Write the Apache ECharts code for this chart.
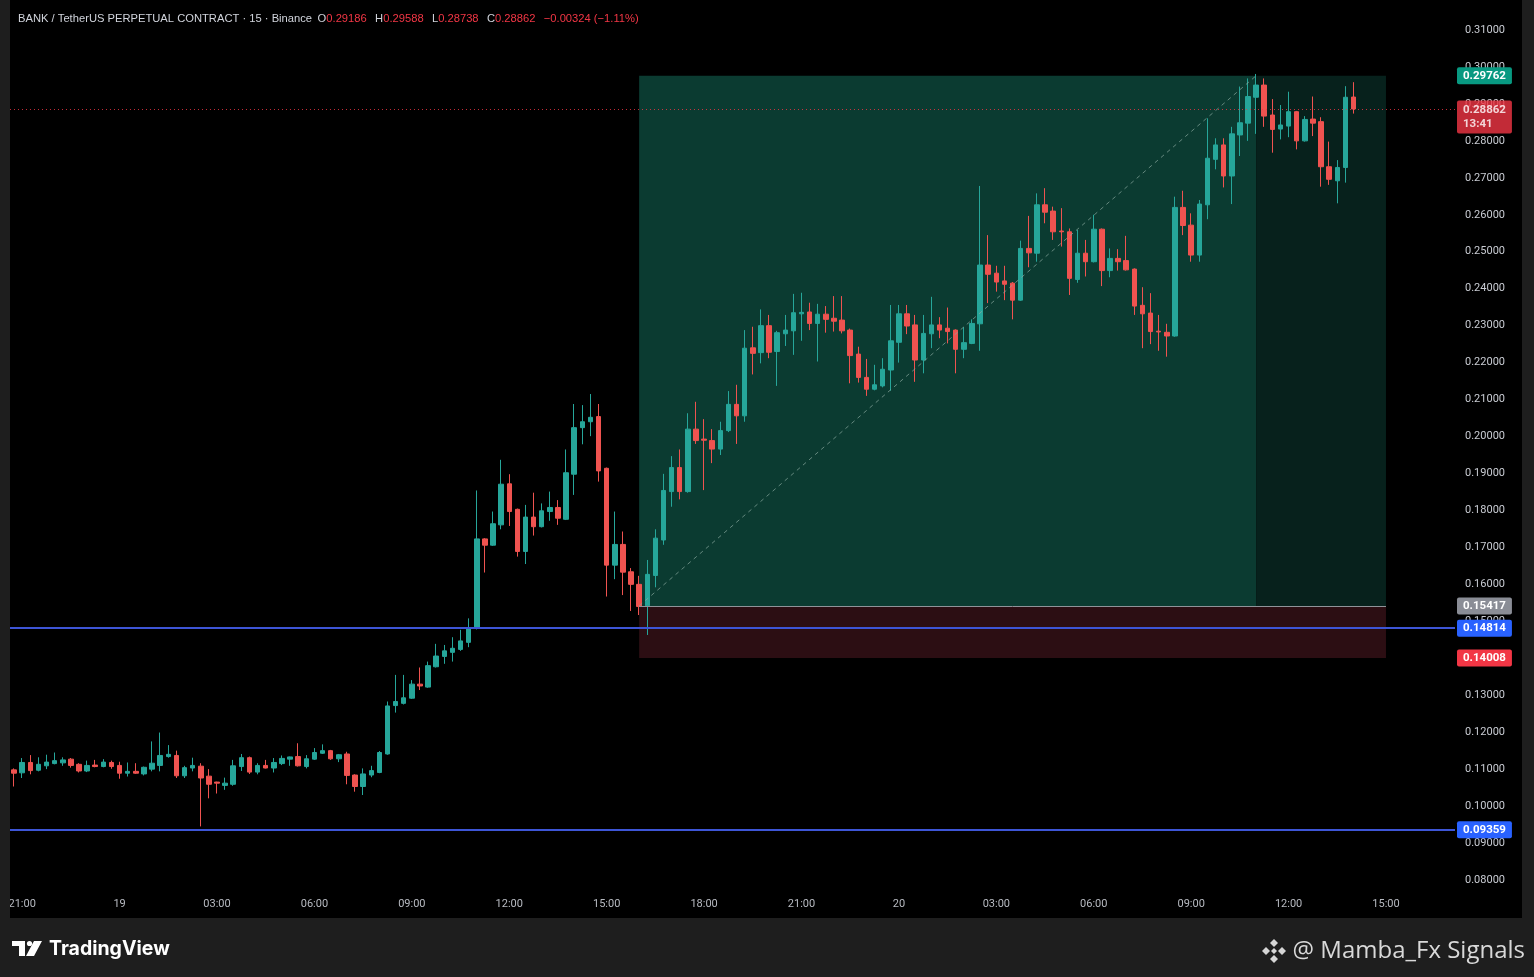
<!DOCTYPE html>
<html><head><meta charset="utf-8">
<script src="https://cdn.jsdelivr.net/npm/echarts/dist/echarts.min.js"></script>
<style>html,body{margin:0;padding:0;background:#000;overflow:hidden}#c{width:1534px;height:977px}</style>
</head><body><div id="c"></div>
<script>
// ---- data (BANK/USDT perp, 15m) ----
const opens = [
0.1098,0.1090,0.1118,0.1097,0.1109,0.1115,0.1117,0.1127,0.1113,0.1095,
0.1111,0.1107,0.1118,0.1110,0.1089,0.1094,0.1087,0.1100,0.1110,0.1134,
0.1137,0.1082,0.1103,0.1108,0.1081,0.1065,0.1056,0.1059,0.1107,0.1131,
0.1092,0.1110,0.1103,0.1115,0.1127,0.1134,0.1107,0.1127,0.1143,0.1150,
0.1128,0.1141,0.1084,0.1053,0.1084,0.1091,0.1141,0.1272,0.1278,0.1292,
0.1330,0.1322,0.1377,0.1405,0.1416,0.1424,0.1443,0.1481,0.1723,0.1706,
0.1761,0.1872,0.1803,0.1689,0.1782,0.1756,0.1797,0.1808,0.1776,0.1898,
0.2024,0.2040,0.2054,0.1914,0.1652,0.1708,0.1634,0.1600,0.1542,0.1624,
0.1720,0.1851,0.1916,0.1851,0.2020,0.1993,0.1989,0.1966,0.2016,0.2087,
0.2056,0.2240,0.2227,0.2300,0.2230,0.2278,0.2286,0.2332,0.2337,0.2306,
0.2331,0.2320,0.2315,0.2288,0.2223,0.2160,0.2128,0.2137,0.2180,0.2255,
0.2332,0.2302,0.2207,0.2278,0.2302,0.2293,0.2288,0.2236,0.2252,0.2305,
0.2464,0.2442,0.2421,0.2415,0.2369,0.2509,0.2496,0.2627,0.2610,0.2556,
0.2554,0.2425,0.2496,0.2473,0.2561,0.2449,0.2482,0.2476,0.2453,0.2355,
0.2334,0.2285,0.2282,0.2272,0.2620,0.2572,0.2491,0.2627,0.2750,0.2789,
0.2705,0.2816,0.2848,0.2918,0.2951,0.2870,0.2832,0.2840,0.2879,0.2800,
0.2859,0.2852,0.2730,0.2692,0.2728,0.29186];
const closes = [
0.1089,0.1118,0.1096,0.1113,0.1119,0.1123,0.1125,0.1110,0.1095,0.1110,
0.1107,0.1119,0.1107,0.1089,0.1094,0.1089,0.1105,0.1116,0.1137,0.1140,
0.1082,0.1104,0.1110,0.1076,0.1059,0.1062,0.1062,0.1109,0.1131,0.1092,
0.1110,0.1103,0.1118,0.1129,0.1133,0.1109,0.1128,0.1145,0.1150,0.1128,
0.1139,0.1083,0.1053,0.1087,0.1096,0.1145,0.1271,0.1283,0.1293,0.1330,
0.1325,0.1380,0.1406,0.1420,0.1427,0.1447,0.1481,0.1723,0.1706,0.1764,
0.1871,0.1797,0.1689,0.1782,0.1756,0.1799,0.1808,0.1779,0.1902,0.2024,
0.2040,0.2052,0.1907,0.1652,0.1708,0.1633,0.1600,0.1540,0.1627,0.1725,
0.1854,0.1916,0.1851,0.2020,0.1989,0.1990,0.1966,0.2016,0.2087,0.2056,
0.2239,0.2225,0.2300,0.2228,0.2281,0.2288,0.2335,0.2336,0.2306,0.2331,
0.2317,0.2312,0.2286,0.2219,0.2160,0.2128,0.2140,0.2182,0.2259,0.2332,
0.2299,0.2207,0.2279,0.2302,0.2288,0.2284,0.2236,0.2254,0.2306,0.2464,
0.2439,0.2418,0.2412,0.2369,0.2509,0.2497,0.2627,0.2607,0.2554,0.2554,
0.2428,0.2496,0.2473,0.2561,0.2449,0.2482,0.2473,0.2451,0.2353,0.2332,
0.2284,0.2283,0.2272,0.2620,0.2571,0.2491,0.2629,0.2753,0.2789,0.2705,
0.2819,0.2849,0.2920,0.2951,0.2867,0.2831,0.2843,0.2879,0.2800,0.2858,
0.2848,0.2730,0.2696,0.2728,0.2918,0.28862];
const lows = [
0.1053,0.1076,0.1086,0.1094,0.1100,0.1113,0.1109,0.1104,0.1091,0.1092,
0.1105,0.1105,0.1101,0.1074,0.1080,0.1087,0.1083,0.1094,0.1094,0.1131,
0.1076,0.1076,0.1094,0.0945,0.1021,0.1034,0.1044,0.1055,0.1095,0.1087,
0.1086,0.1102,0.1091,0.1111,0.1109,0.1107,0.1102,0.1125,0.1141,0.1125,
0.1119,0.1059,0.1039,0.1030,0.1078,0.1089,0.1139,0.1253,0.1275,0.1290,
0.1314,0.1320,0.1375,0.1385,0.1391,0.1420,0.1430,0.1478,0.1632,0.1704,
0.1749,0.1758,0.1675,0.1655,0.1732,0.1754,0.1772,0.1761,0.1774,0.1842,
0.1979,0.2001,0.1878,0.1567,0.1614,0.1571,0.1528,0.1517,0.1463,0.1592,
0.1707,0.1810,0.1830,0.1848,0.1980,0.1855,0.1928,0.1950,0.2012,0.1980,
0.2040,0.2168,0.2198,0.2212,0.2137,0.2245,0.2221,0.2259,0.2288,0.2203,
0.2281,0.2284,0.2279,0.2144,0.2146,0.2110,0.2125,0.2133,0.2124,0.2200,
0.2277,0.2148,0.2171,0.2239,0.2266,0.2252,0.2171,0.2212,0.2250,0.2232,
0.2361,0.2392,0.2369,0.2317,0.2367,0.2458,0.2473,0.2577,0.2532,0.2514,
0.2383,0.2416,0.2433,0.2471,0.2407,0.2431,0.2449,0.2449,0.2329,0.2239,
0.2250,0.2232,0.2216,0.2270,0.2545,0.2473,0.2473,0.2588,0.2723,0.2674,
0.2629,0.2759,0.2800,0.2819,0.2838,0.2768,0.2804,0.2810,0.2777,0.2798,
0.2813,0.2676,0.2681,0.2631,0.2687,0.28738];
const highs = [
0.1102,0.1130,0.1138,0.1132,0.1139,0.1145,0.1132,0.1130,0.1116,0.1123,
0.1125,0.1127,0.1123,0.1120,0.1118,0.1116,0.1107,0.1175,0.1199,0.1165,
0.1150,0.1109,0.1131,0.1116,0.1100,0.1066,0.1077,0.1125,0.1141,0.1134,
0.1116,0.1125,0.1130,0.1137,0.1134,0.1170,0.1138,0.1157,0.1167,0.1152,
0.1141,0.1147,0.1086,0.1102,0.1109,0.1149,0.1283,0.1355,0.1355,0.1341,
0.1375,0.1391,0.1439,0.1436,0.1457,0.1477,0.1508,0.1854,0.1725,0.1797,
0.1937,0.1898,0.1805,0.1815,0.1848,0.1819,0.1851,0.1828,0.1965,0.2088,
0.2085,0.2115,0.2088,0.1916,0.1797,0.1743,0.1644,0.1623,0.1666,0.1749,
0.1899,0.1947,0.1965,0.2063,0.2094,0.2047,0.2020,0.2040,0.2123,0.2140,
0.2288,0.2297,0.2344,0.2329,0.2286,0.2329,0.2386,0.2389,0.2362,0.2359,
0.2353,0.2380,0.2380,0.2292,0.2243,0.2210,0.2194,0.2212,0.2356,0.2356,
0.2356,0.2329,0.2329,0.2378,0.2323,0.2349,0.2290,0.2296,0.2317,0.2678,
0.2545,0.2462,0.2462,0.2418,0.2530,0.2597,0.2658,0.2672,0.2622,0.2618,
0.2563,0.2559,0.2532,0.2600,0.2563,0.2509,0.2507,0.2543,0.2455,0.2404,
0.2388,0.2329,0.2305,0.2649,0.2665,0.2604,0.2640,0.2861,0.2807,0.2807,
0.2838,0.2947,0.2969,0.2981,0.2969,0.2913,0.2897,0.2933,0.2881,0.2867,
0.2920,0.2864,0.2798,0.2748,0.2948,0.29588];

// time slots: first bar 18th 20:45, 15 minute bars, axis runs to 20th 17:00
const startDay = 18, startMinute = 20 * 60 + 45, barMinutes = 15, slotCount = 178;
const priceMin = 0.08, priceMax = 0.31, priceStep = 0.01;

// long position tool
const entryPrice = 0.15417, targetPrice = 0.29762, stopPrice = 0.14008;
const toolStart = '19 16:00', targetHit = '20 11:00', toolEnd = '20 15:00';
const supportLevels = [0.14814, 0.09359];
const countdown = '13:41';
const header = 'BANK / TetherUS PERPETUAL CONTRACT · 15 · Binance';

// ---- build ----
const pad = n => String(n).padStart(2, '0');
const categories = [];
for (let i = 0; i < slotCount; i++) {
  const m = startMinute + i * barMinutes;
  categories.push((startDay + Math.floor(m / 1440)) + ' ' + pad(Math.floor((m % 1440) / 60)) + ':' + pad(m % 60));
}
const candles = opens.map((o, i) => [o, closes[i], lows[i], highs[i]]);
const last = candles.length - 1;
const lastClose = closes[last];
const chg = closes[last] - opens[last];

const UP = '#26a69a', DOWN = '#ef5350';
const FONT = 'Roboto, Arial, sans-serif';
const fmt = v => v.toFixed(5);
const CLEAR = 'rgba(0,0,0,0)';
const boxLabel = (bg, txt) => ({
  show: true, position: 'end', distance: 2, formatter: txt,
  backgroundColor: bg, color: '#fff', fontSize: 11.5, fontWeight: 'bold',
  fontFamily: FONT, padding: [3, 6, 2, 6], borderRadius: 2
});

const chart = echarts.init(document.getElementById('c'));
chart.setOption({
  animation: false,
  backgroundColor: '#000',
  grid: { left: 10, right: 79, top: 30, bottom: 97 },
  xAxis: {
    type: 'category', data: categories, boundaryGap: true,
    axisLine: { show: false }, axisTick: { show: false }, splitLine: { show: false },
    axisLabel: {
      margin: 19, color: '#b8bbc2', fontSize: 11, fontFamily: FONT,
      interval: (idx, val) => { const t = val.split(' ')[1].split(':').map(Number); return t[1] === 0 && t[0] % 3 === 0; },
      formatter: val => { const p = val.split(' '); return p[1] === '00:00' ? p[0] : p[1]; }
    }
  },
  yAxis: {
    type: 'value', position: 'right', min: priceMin, max: priceMax, interval: priceStep, scale: true,
    axisLine: { show: false }, axisTick: { show: false }, splitLine: { show: false },
    axisLabel: { margin: 10, color: '#c9ccd3', fontSize: 11, fontFamily: FONT, formatter: v => fmt(v) }
  },
  series: [{
    type: 'candlestick', data: candles, barWidth: 5,
    itemStyle: { color: UP, color0: DOWN, borderColor: UP, borderColor0: DOWN, borderWidth: 1 },
    markArea: {
      silent: true,
      data: [
        [{ xAxis: toolStart, yAxis: targetPrice, itemStyle: { color: '#0b3b31' } }, { xAxis: targetHit, yAxis: entryPrice }],
        [{ xAxis: targetHit, yAxis: targetPrice, itemStyle: { color: '#07211c' } }, { xAxis: toolEnd, yAxis: entryPrice }],
        [{ xAxis: toolStart, yAxis: entryPrice, itemStyle: { color: '#2c0e13' } }, { xAxis: toolEnd, yAxis: stopPrice }]
      ]
    },
    markLine: {
      silent: true, symbol: ['none', 'none'], precision: 5,
      data: [
        { yAxis: supportLevels[0], lineStyle: { color: '#3d55d6', width: 2, type: 'solid' }, label: boxLabel('#2962ff', fmt(supportLevels[0])) },
        { yAxis: supportLevels[1], lineStyle: { color: '#3d55d6', width: 2, type: 'solid' }, label: boxLabel('#2962ff', fmt(supportLevels[1])) },
        { yAxis: lastClose, lineStyle: { color: '#f23645', width: 1, type: [1, 3], opacity: 0.8 }, label: Object.assign(boxLabel('#f23645', fmt(lastClose) + '\n' + countdown), { lineHeight: 14, offset: [0, 8] }) },
        { yAxis: targetPrice, lineStyle: { color: CLEAR, width: 0 }, label: boxLabel('#089981', fmt(targetPrice)) },
        { yAxis: entryPrice, lineStyle: { color: CLEAR, width: 0 }, label: boxLabel('#8a8d96', fmt(entryPrice)) },
        { yAxis: stopPrice, lineStyle: { color: CLEAR, width: 0 }, label: boxLabel('#f23645', fmt(stopPrice)) },
        [{ coord: [toolStart, entryPrice], lineStyle: { color: '#8f9399', width: 1, type: 'solid' }, label: { show: false } }, { coord: [toolEnd, entryPrice] }],
        [{ coord: [toolStart, entryPrice], lineStyle: { color: '#8aa9a0', width: 1, type: [4, 4], opacity: 0.7 }, label: { show: false } }, { coord: [targetHit, targetPrice] }]
      ]
    }
  }],
  graphic: [
    { type: 'rect', z: 100, shape: { x: 0, y: 0, width: 10, height: 977 }, style: { fill: '#1e1e1e' } },
    { type: 'rect', z: 100, shape: { x: 1522, y: 0, width: 12, height: 977 }, style: { fill: '#1e1e1e' } },
    { type: 'rect', z: 100, shape: { x: 0, y: 918, width: 1534, height: 59 }, style: { fill: '#1e1e1e' } },
    { type: 'text', z: 101, x: 18, y: 19, style: {
      text: '{t|' + header + '}  {l|O}{r|' + fmt(opens[last]) + '}   {l|H}{r|' + fmt(highs[last]) + '}   {l|L}{r|' + fmt(lows[last]) + '}   {l|C}{r|' + fmt(closes[last]) + '}   {r|' + (chg < 0 ? '−' : '+') + Math.abs(chg).toFixed(5) + ' (' + (chg < 0 ? '−' : '+') + Math.abs(chg / opens[last] * 100).toFixed(2) + '%)}',
      verticalAlign: 'middle', fontSize: 11.2, fontFamily: FONT,
      rich: { t: { fill: '#d1d4dc', fontSize: 11.2 }, l: { fill: '#d1d4dc', fontSize: 11.2 }, r: { fill: '#f23645', fontSize: 11.2 } }
    } },
    // TradingView logo (approximation) + wordmark
    { type: 'polygon', z: 101, shape: { points: [[12, 941], [25, 941], [25, 956], [19, 956], [19, 946], [12, 946]] }, style: { fill: '#fff' } },
    { type: 'circle', z: 101, shape: { cx: 29.5, cy: 943.5, r: 2.6 }, style: { fill: '#fff' } },
    { type: 'polygon', z: 101, shape: { points: [[34, 941], [42, 941], [34, 956], [26, 956]] }, style: { fill: '#fff' } },
    { type: 'text', z: 101, x: 49, y: 949, style: { text: 'TradingView', fill: '#ffffff', fontSize: 19.5, fontWeight: 'bold', fontFamily: 'Inter, Roboto, sans-serif', verticalAlign: 'middle' } },
    // Binance-like mark + signature
    { type: 'polygon', z: 101, shape: { points: [[1274, 939], [1278, 943], [1274, 947], [1270, 943]] }, style: { fill: '#d6d6d6' } },
    { type: 'polygon', z: 101, shape: { points: [[1274, 963], [1278, 959], [1274, 955], [1270, 959]] }, style: { fill: '#d6d6d6' } },
    { type: 'polygon', z: 101, shape: { points: [[1262, 951], [1266, 947], [1270, 951], [1266, 955]] }, style: { fill: '#d6d6d6' } },
    { type: 'polygon', z: 101, shape: { points: [[1286, 951], [1282, 947], [1278, 951], [1282, 955]] }, style: { fill: '#d6d6d6' } },
    { type: 'polygon', z: 101, shape: { points: [[1274, 948], [1277, 951], [1274, 954], [1271, 951]] }, style: { fill: '#d6d6d6' } },
    { type: 'text', z: 101, x: 1525, y: 951, style: { text: '@ Mamba_Fx Signals', fill: '#d9d9d9', fontSize: 24, fontFamily: '"Open Sans", "Noto Sans", sans-serif', align: 'right', verticalAlign: 'middle' } }
  ]
});
</script></body></html>
